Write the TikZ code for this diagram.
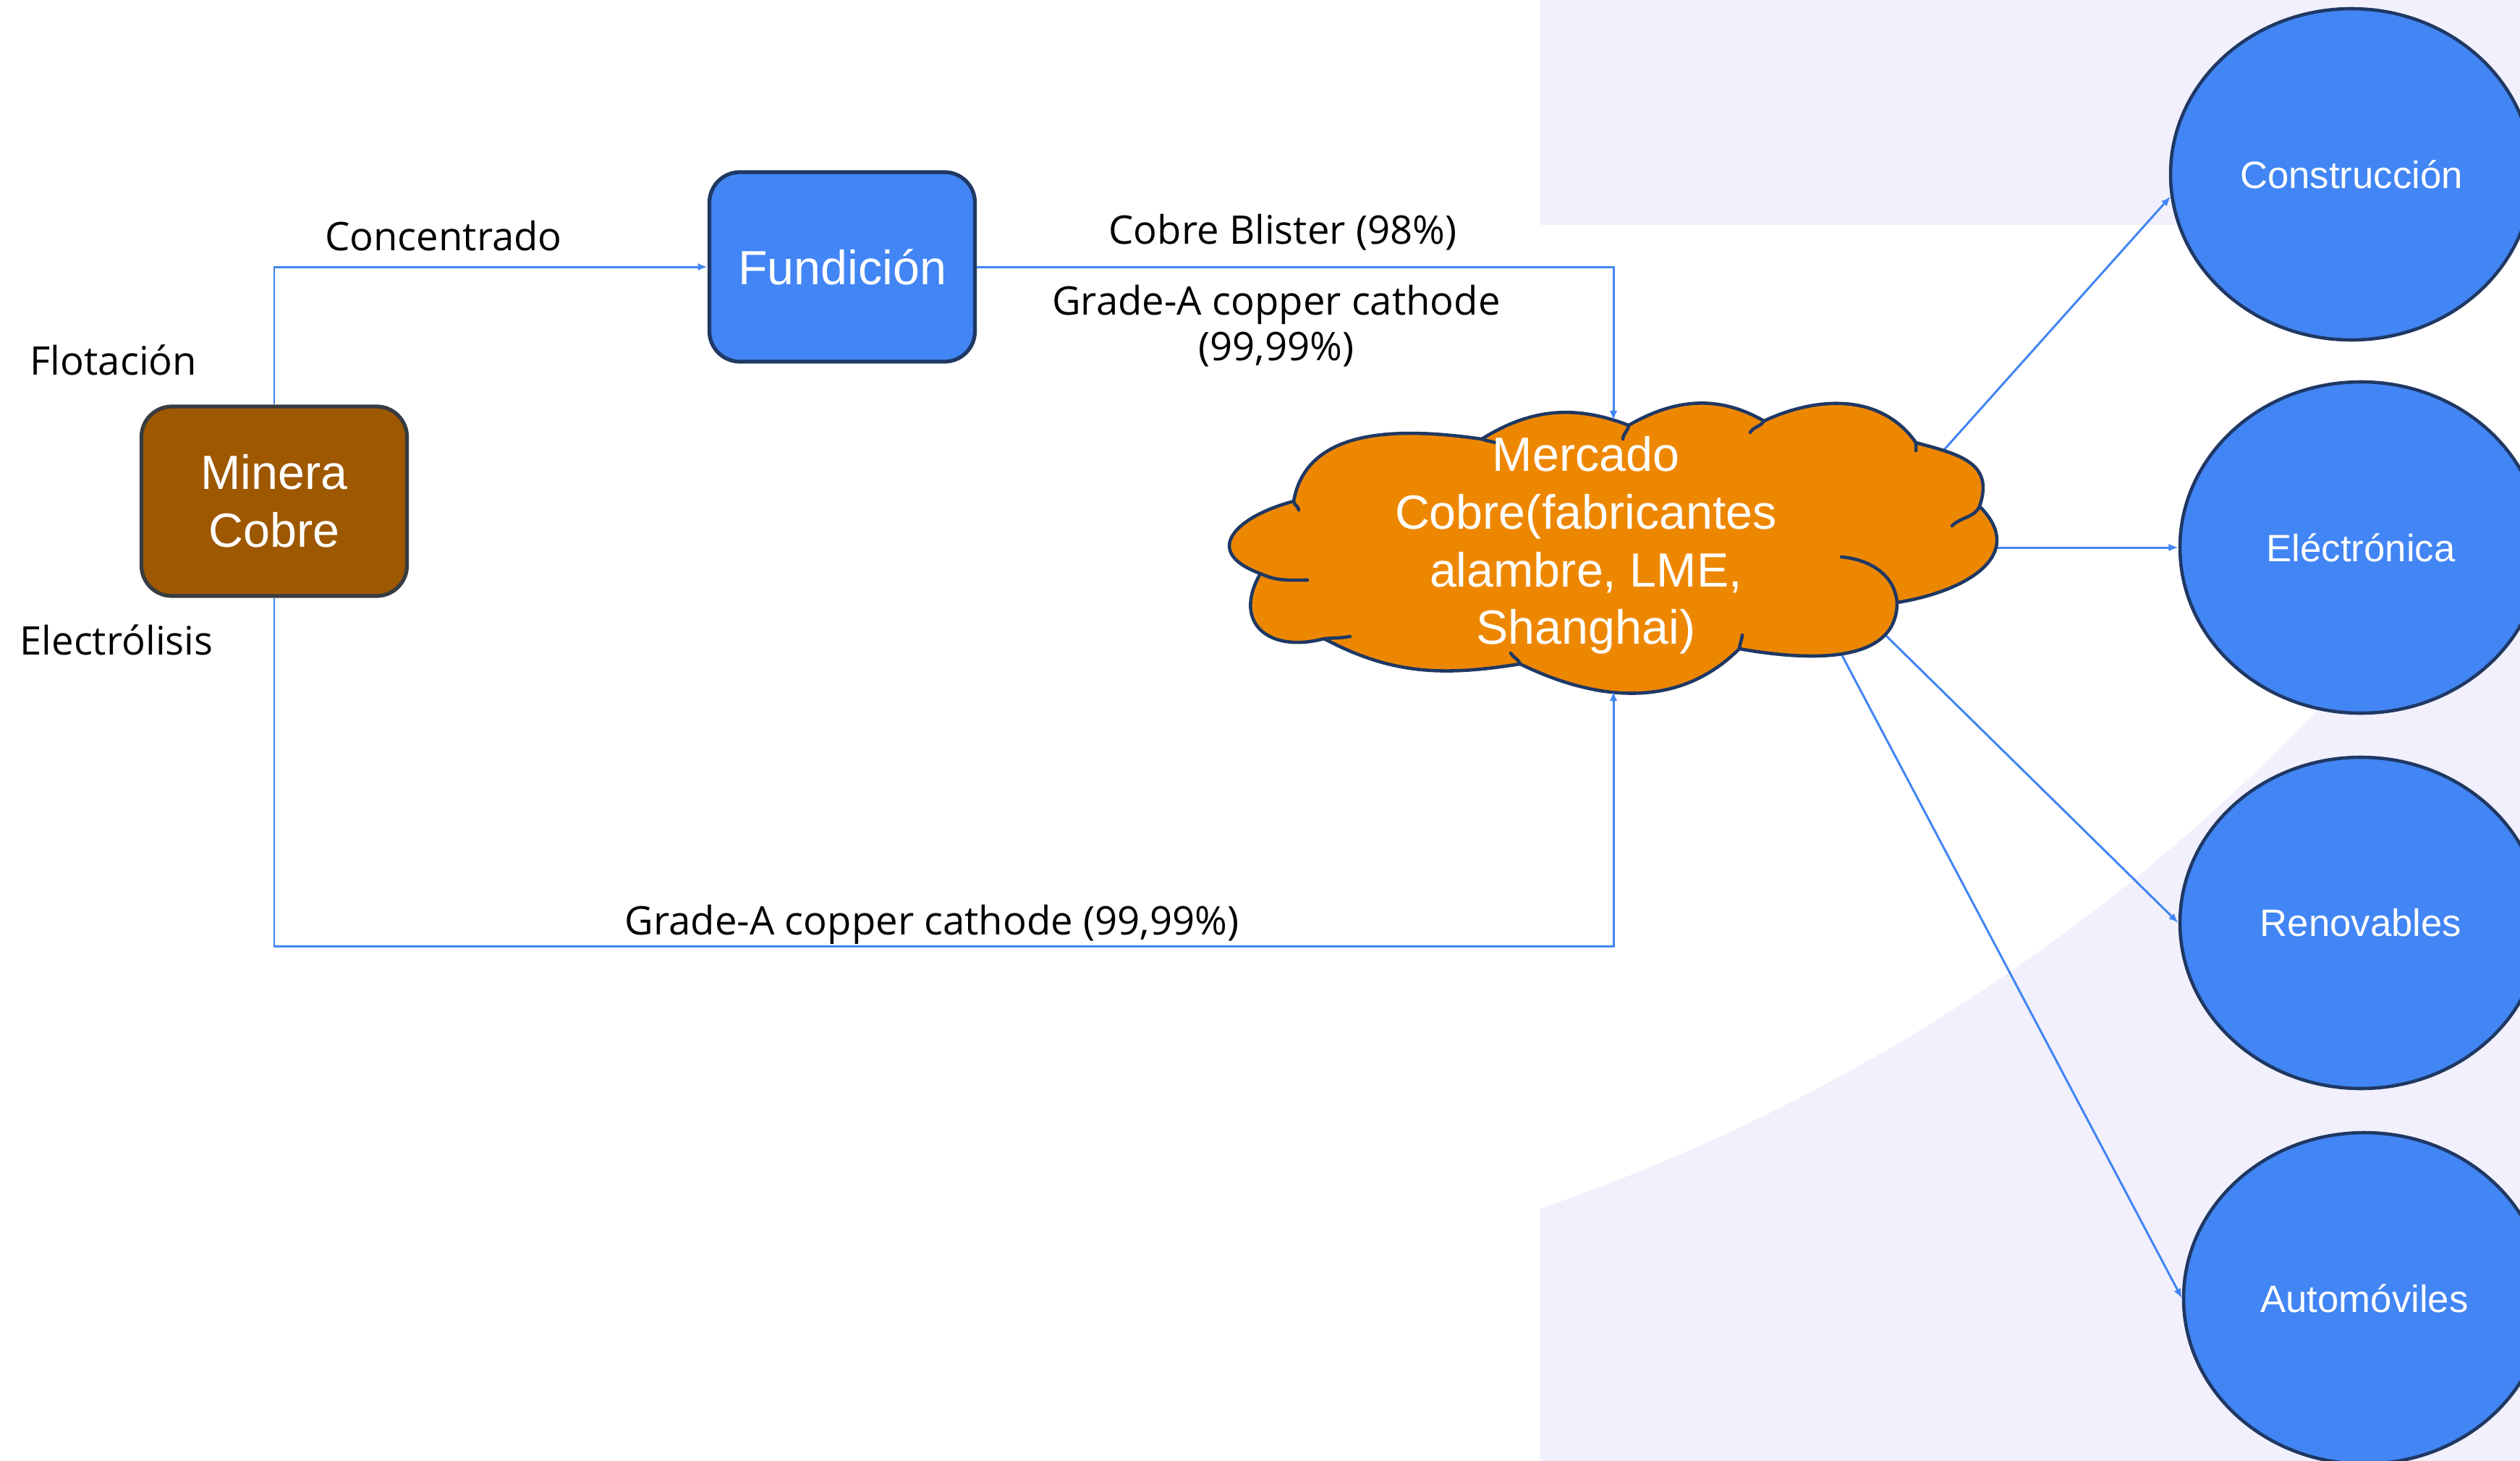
\documentclass[tikz,border=0pt]{standalone}
\usepackage{fontspec}
\setmainfont{Liberation Sans}
\newfontfamily\rotulofont{Open Sans}
\usetikzlibrary{shapes.geometric,arrows.meta}

\definecolor{lavanda}{RGB}{241,240,252}
\definecolor{azul}{RGB}{66,133,244}
\definecolor{marino}{RGB}{31,56,100}
\definecolor{marron}{RGB}{158,88,0}
\definecolor{pizarra}{RGB}{55,60,65}
\definecolor{naranja}{RGB}{238,135,0}
\definecolor{linea}{RGB}{66,133,244}

\pgfdeclarelayer{fondo}
\pgfsetlayers{fondo,main}

\begin{document}
\begin{tikzpicture}[
      caja/.style={rounded corners=0.42cm, line width=1.5pt, minimum width=3.67cm,
         minimum height=2.62cm, text=white, align=center,
         font=\fontsize{18.9}{22.7}\selectfont},
      sector/.style={ellipse, draw=marino, fill=azul, line width=1.3pt,
         minimum width=5cm, minimum height=4.58cm, inner sep=0pt, text=white,
         font=\fontsize{15}{18}\selectfont},
      nube/.style={draw=marino, fill=naranja, line width=1.3pt, line join=round},
      costura/.style={draw=marino, line width=1.3pt, line cap=round},
      rotulo/.style={anchor=base, align=center, font=\rotulofont\fontsize{15.5}{17.9}\selectfont},
      flecha/.style={draw=linea, line width=0.85pt, -{Latex[length=3.8pt,width=3pt]}}
   ]
      \useasboundingbox (0,0) rectangle (34.83,-20.20);

      % nube del mercado
      \draw[nube] (17.88,-6.93) to[out=80, in=172] (20.48,-6.07)
         to[out=32, in=159] (22.51,-5.88)
         to[out=30, in=150] (24.38,-5.82)
         to[out=25, in=125] (26.48,-6.12)
         to[out=-15, in=71, looseness=1.3] (27.36,-7.00)
         to[out=-45, in=9, looseness=1.4] (26.22,-8.33)
         to[out=-90, in=-10] (24.04,-8.97)
         to[out=-135, in=-26] (21.01,-9.18)
         to[out=-171, in=-28] (18.30,-8.83)
         to[out=195, in=-120, looseness=1.6] (17.42,-7.93)
         to[out=160, in=-165, looseness=2] (17.88,-6.93) -- cycle;
      \draw[costura] (17.88,-6.93) to[out=-85, in=95] (17.95,-7.05);
      \draw[costura] (20.48,-6.07) to[out=-20, in=165] (20.67,-6.12);
      \draw[costura] (22.51,-5.88) to[out=-95, in=85] (22.43,-6.07);
      \draw[costura] (24.38,-5.82) to[out=-120, in=60] (24.19,-5.98);
      \draw[costura] (26.48,-6.12) to[out=-85, in=90] (26.48,-6.23);
      \draw[costura] (27.36,-7.00) to[out=-115, in=45] (26.98,-7.27);
      \draw[costura] (25.45,-7.70) to[out=-5, in=95] (26.22,-8.33);
      \draw[costura] (24.04,-8.97) to[out=85, in=-95] (24.08,-8.78);
      \draw[costura] (21.01,-9.18) to[out=110, in=-60] (20.88,-9.03);
      \draw[costura] (18.30,-8.83) to[out=5, in=190] (18.66,-8.80);
      \draw[costura] (17.42,-7.93) to[out=-25, in=180] (18.07,-8.02);

      \node[ellipse, minimum width=10.84cm, minimum height=3.73cm, inner sep=0pt,
         label={[text=white, align=center, xshift=-0.38cm, yshift=0.145cm,
            font=\fontsize{18.9}{22.7}\selectfont]center:Mercado\\Cobre(fabricantes\\alambre, LME,\\Shanghai)}]
         (mercado) at (22.30,-7.685) {};

      \node[caja, draw=pizarra, fill=marron] (mina) at (3.79,-6.93) {Minera\\Cobre};
      \node[caja, draw=marino, fill=azul] (fundicion) at (11.64,-3.69) {Fundición};

      \begin{scope}[name prefix = uso-]
         \node[sector] (1) at (32.50,-2.41) {Construcción};
         \node[sector] (2) at (32.63,-7.57) {Eléctrónica};
         \node[sector] (3) at (32.63,-12.76) {Renovables};
         \node[sector] (4) at (32.68,-17.95) {Automóviles};
      \end{scope}

      \node[rotulo] (concentrado) at (6.13,-3.46) {Concentrado};
      \node[rotulo] (flotacion) at (1.57,-5.18) {Flotación};
      \node[rotulo] (electrolisis) at (1.61,-9.05) {Electrólisis};
      \node[rotulo] (blister) at (17.73,-3.37) {Cobre Blister (98\%)};
      \node[rotulo] (catodo) at (17.64,-4.98) {Grade-A copper cathode\\(99,99\%)};
      \node[rotulo] (catodo-mina) at (12.88,-12.92) {Grade-A copper cathode (99,99\%)};

      \begin{scope}
         \draw[flecha] (mina.north) |- (fundicion.west);
         \draw[flecha] (fundicion.east) -| (mercado.north);
         \draw[flecha] (mina.south) -- ++(0,-4.82) -| (mercado.south);
      \end{scope}

      \begin{pgfonlayer}{fondo}
         \fill[lavanda] (21.29,0) rectangle (34.83,-20.20);
         \begin{scope}
            \clip (21.29,-3.11) rectangle (34.83,-20.20);
            \fill[white] (12.55,8.74) circle (26.9);
         \end{scope}
         % salen de dentro de la nube, que las tapa
         \draw[flecha, shorten <=-1.5cm] (mercado.15.4) -- (uso-1.187);
         \draw[flecha] (mercado.center |- uso-2.west) -- (uso-2.west);
         \draw[flecha, shorten <=-1.5cm] (mercado.-18.8) -- (uso-3.west);
         \draw[flecha, shorten <=-1.5cm] (mercado.-25.7) -- (uso-4.west);
      \end{pgfonlayer}
   \end{tikzpicture}
\end{document}
